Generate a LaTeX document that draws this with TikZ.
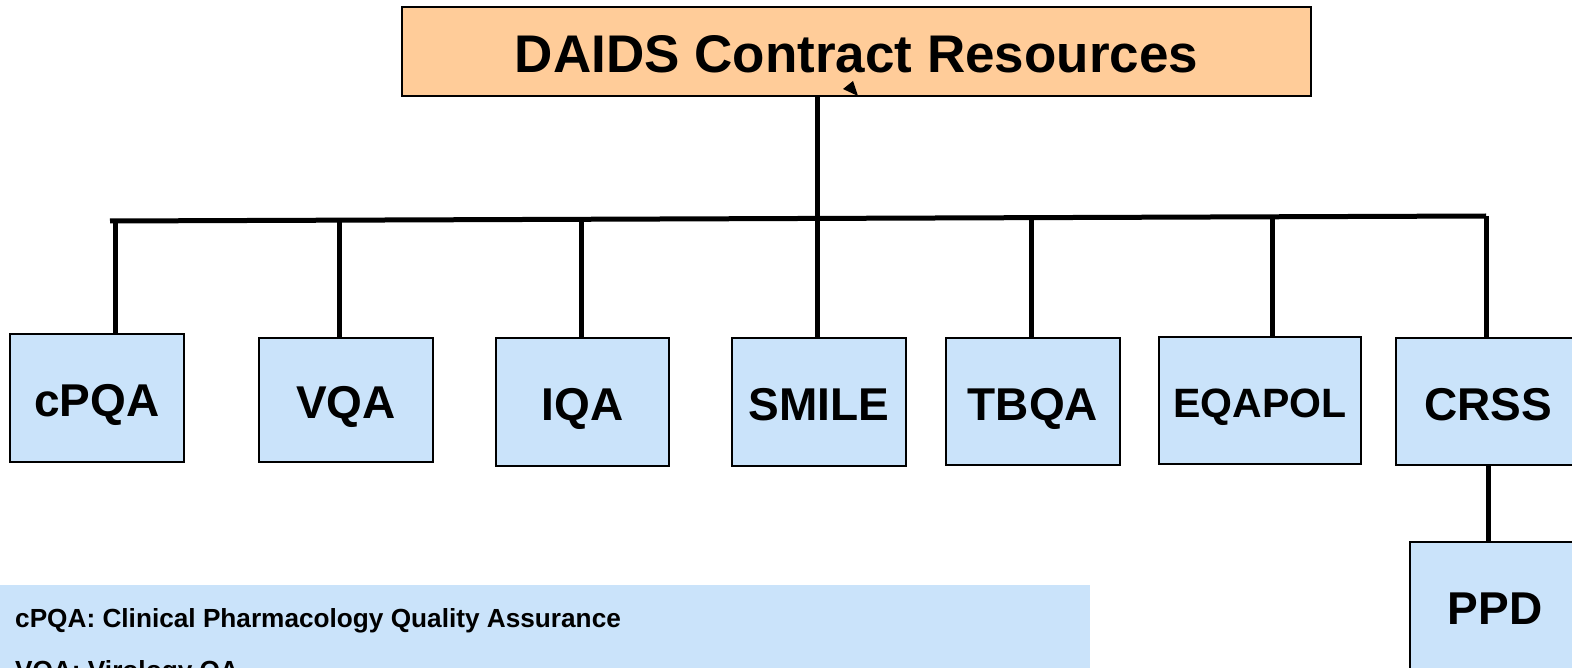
\documentclass[tikz,border=0pt]{standalone}
\usepackage{fontspec}
\setmainfont{Liberation Sans}
\definecolor{peach}{RGB}{255,204,153}
\definecolor{boxblue}{RGB}{202,227,250}
\tikzset{
  titlebox/.style={draw=black, line width=1.8pt, fill=peach, inner sep=0pt,
    minimum width=909pt, minimum height=89pt, text height=43pt, text depth=0pt,
    font=\fontsize{53}{58}\selectfont\bfseries},
  unitbox/.style={draw=black, line width=1.8pt, fill=boxblue, inner sep=0pt,
    minimum width=174pt, minimum height=127pt, text height=37.5pt, text depth=0pt,
    font=\fontsize{46}{50}\selectfont\bfseries},
  link/.style={line width=5pt, black},
  legendtext/.style={anchor=base west, inner sep=0pt, font=\fontsize{26.2}{30}\selectfont\bfseries}
}
\begin{document}
\begin{tikzpicture}[x=1pt,y=-1pt]
\useasboundingbox (0,0) rectangle (1572,668);
\clip (0,0) rectangle (1572,668);
\fill[white] (0,0) rectangle (1572,668);

% title
\node[titlebox] (title) at (856.5,51.5) {DAIDS Contract Resources};

% units
\node[unitbox, minimum height=128pt] (cpqa) at (97,398) {cPQA};
\node[unitbox, minimum height=124pt] (vqa) at (346,400) {VQA};
\node[unitbox, minimum width=173pt, minimum height=128pt] (iqa) at (582.5,402) {IQA};
\node[unitbox, minimum height=128pt] (smile) at (819,402) {SMILE};
\node[unitbox] (tbqa) at (1033,401.5) {TBQA};
\node[unitbox, minimum width=202pt, text height=34pt, font=\fontsize{41}{45}\selectfont\bfseries] (eqapol) at (1260,400.5) {EQAPOL};
\node[unitbox, minimum width=184pt] (crss) at (1488,401.5) {CRSS};
\node[unitbox, minimum width=170pt, minimum height=128pt] (ppd) at (1495,606) {PPD};

% bus coordinates
\coordinate (bL) at (110,221);
\coordinate (b1) at (115,221);
\coordinate (b2) at (339,220.2);
\coordinate (b3) at (581,219.3);
\coordinate (b4) at (817,218.4);
\coordinate (b5) at (1031,217.7);
\coordinate (b6) at (1272,216.8);
\coordinate (bR) at (1486,216);

% connectors
\draw[link] (title.south -| b4) -- (b4);
\draw[link] (bL) -- (bR);
\draw[link] (b1) -- (b1 |- cpqa.north);
\draw[link] (b2) -- (b2 |- vqa.north);
\draw[link] (b3) -- (b3 |- iqa.north);
\draw[link] (b4) -- (b4 |- smile.north);
\draw[link] (b5) -- (b5 |- tbqa.north);
\draw[link] (b6) -- (b6 |- eqapol.north);
\draw[link] (bR) -- (bR |- crss.north);
\draw[link] (crss.south) -- (crss.south |- ppd.north);

% small arrowhead mark
\fill[black] (843,89) -- (853,81) -- (858,96) -- cycle;

% legend
\fill[boxblue] (0,585) rectangle (1090,700);
\node[legendtext] (leg1) at (15,627) {cPQA: Clinical Pharmacology Quality Assurance};
\node[legendtext] (leg2) at (15,679) {VQA: Virology QA};
\end{tikzpicture}
\end{document}
